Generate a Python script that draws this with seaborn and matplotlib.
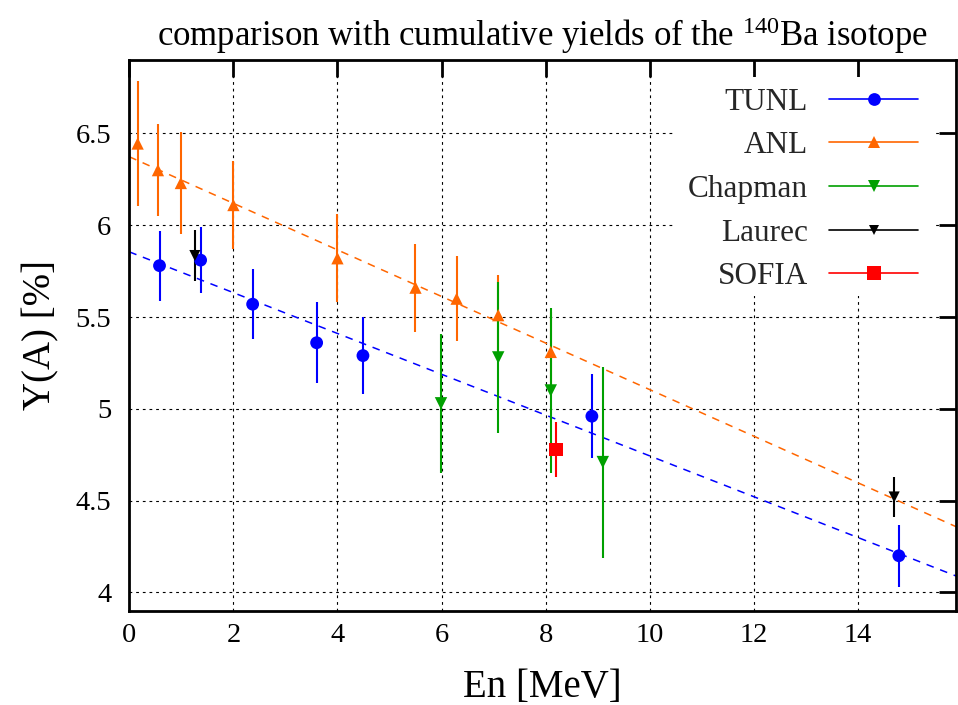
import numpy as np
import pandas as pd
import matplotlib
matplotlib.use("Agg")
import matplotlib.pyplot as plt
from matplotlib.lines import Line2D
from matplotlib.patches import Rectangle
from matplotlib.ticker import FixedLocator, FuncFormatter
import seaborn as sns

# ---- measured cumulative yields of 140Ba (En in MeV, Y in %) ----
tunl_en = [0.58, 1.37, 2.37, 3.60, 4.49, 8.89, 14.79]
tunl_y = [5.78, 5.81, 5.57, 5.36, 5.29, 4.96, 4.20]
tunl_err = [0.19, 0.18, 0.19, 0.22, 0.21, 0.23, 0.17]

anl_en = [0.16, 0.55, 0.99, 2.00, 4.00, 5.50, 6.29, 7.09, 8.10]
anl_y = [6.445, 6.30, 6.23, 6.11, 5.82, 5.66, 5.60, 5.51, 5.31]
anl_err = [0.34, 0.25, 0.28, 0.24, 0.24, 0.24, 0.23, 0.22, 0.22]

chapman_en = [5.99, 7.09, 8.10, 9.10]
chapman_y = [5.03, 5.28, 5.10, 4.71]
chapman_err = [0.38, 0.41, 0.45, 0.52]

laurec_en = [1.26, 14.70]
laurec_y = [5.835, 4.52]
laurec_err = [0.14, 0.11]

sofia_en = [8.20]
sofia_y = [4.78]
sofia_err = [0.15]

# linear trends (intercept, slope) for TUNL and ANL
tunl_fit = [5.855, -0.1111]
anl_fit = [6.373, -0.1268]

# axis ticks
x_ticks = [0, 2, 4, 6, 8, 10, 12, 14]
y_ticks = [4, 4.5, 5, 5.5, 6, 6.5]
x_range = [0, 15.89]
y_range = [3.9, 6.9]

series = [
    # label, x, y, err, colour, marker, marker area, legend marker size
    ("TUNL", tunl_en, tunl_y, tunl_err, "#0000ff", "o", 85, 9.2),
    ("ANL", anl_en, anl_y, anl_err, "#ff6600", "^", 78, 8.8),
    ("Chapman", chapman_en, chapman_y, chapman_err, "#00a000", "v", 80, 8.8),
    ("Laurec", laurec_en, laurec_y, laurec_err, "#000000", "v", 64, 7.5),
    ("SOFIA", sofia_en, sofia_y, sofia_err, "#ff0000", "s", 92, 9.6),
]

sns.set_theme(style="white")
plt.rcParams["font.family"] = ["Liberation Serif", "DejaVu Serif"]
plt.rcParams["mathtext.fontset"] = "custom"
plt.rcParams["mathtext.rm"] = "Liberation Serif"
plt.rcParams["mathtext.it"] = "Liberation Serif"

fig = plt.figure(figsize=(9.58, 7.05), dpi=100)
ax = fig.add_axes([0.135, 0.1336, 0.863, 0.7813])

# grid, dotted black
ax.set_axisbelow(True)
ax.grid(True, color="black", linestyle=(0, (2.5, 3.5)), linewidth=0.8)

# opaque key background (stops short of the right-hand tick marks)
ax.add_patch(Rectangle((0.66, 0.5715), 0.316, 0.3975, transform=ax.transAxes,
                       facecolor="white", edgecolor="none", zorder=1))

# dashed linear trends
xs = np.array(x_range)
for fit, col in ((tunl_fit, "#0000ff"), (anl_fit, "#ff6600")):
    sns.lineplot(x=xs, y=fit[0] + fit[1] * xs, ax=ax, color=col,
                 linewidth=1.1, linestyle=(0, (5, 4.5)), zorder=2)

handles = []
for label, x, y, err, col, mk, area, lms in series:
    df = pd.DataFrame({"En": x, "Y": y, "err": err})
    ax.errorbar(df["En"], df["Y"], yerr=df["err"], fmt="none", ecolor=col,
                elinewidth=1.5, capsize=0, zorder=3)
    sns.scatterplot(data=df, x="En", y="Y", ax=ax, color=col, marker=mk,
                    s=area, linewidth=0, edgecolor="none", zorder=4, legend=False)
    handles.append(Line2D([], [], color=col, lw=1.2, marker=mk, markersize=lms,
                          markeredgewidth=0, label=label))

ax.set_xlim(*x_range)
ax.set_ylim(*y_range)
ax.xaxis.set_major_locator(FixedLocator(x_ticks))
ax.yaxis.set_major_locator(FixedLocator(y_ticks))
ax.yaxis.set_major_formatter(FuncFormatter(lambda v, p: f"{v:g}"))
ax.xaxis.set_major_formatter(FuncFormatter(lambda v, p: f"{v:g}"))

for s in ax.spines.values():
    s.set_visible(True)
    s.set_color("black")
    s.set_linewidth(2.0)

ax.tick_params(axis="both", which="major", direction="in", length=12, width=2.0,
               color="black", top=True, right=True, labelsize=20.5,
               labelcolor="black")
ax.tick_params(axis="x", pad=9)
ax.tick_params(axis="y", pad=13)

ax.set_xlabel("En [MeV]", fontsize=28, labelpad=15, color="black")
ax.set_ylabel("Y(A) [%]", fontsize=28, labelpad=12, color="black")
ax.set_title(r"comparison with cumulative yields of the $^{140}$Ba isotope",
             fontsize=25, pad=10, color="black")

leg = ax.legend(handles=handles, loc="upper right", bbox_to_anchor=(0.9654, 0.967),
                borderaxespad=0, frameon=False, markerfirst=False, fontsize=22.5,
                handlelength=2.85, handletextpad=0.67, labelspacing=0.47,
                borderpad=0.3, numpoints=1)
leg.set_zorder(5)

fig.savefig("out.png", dpi=100)
